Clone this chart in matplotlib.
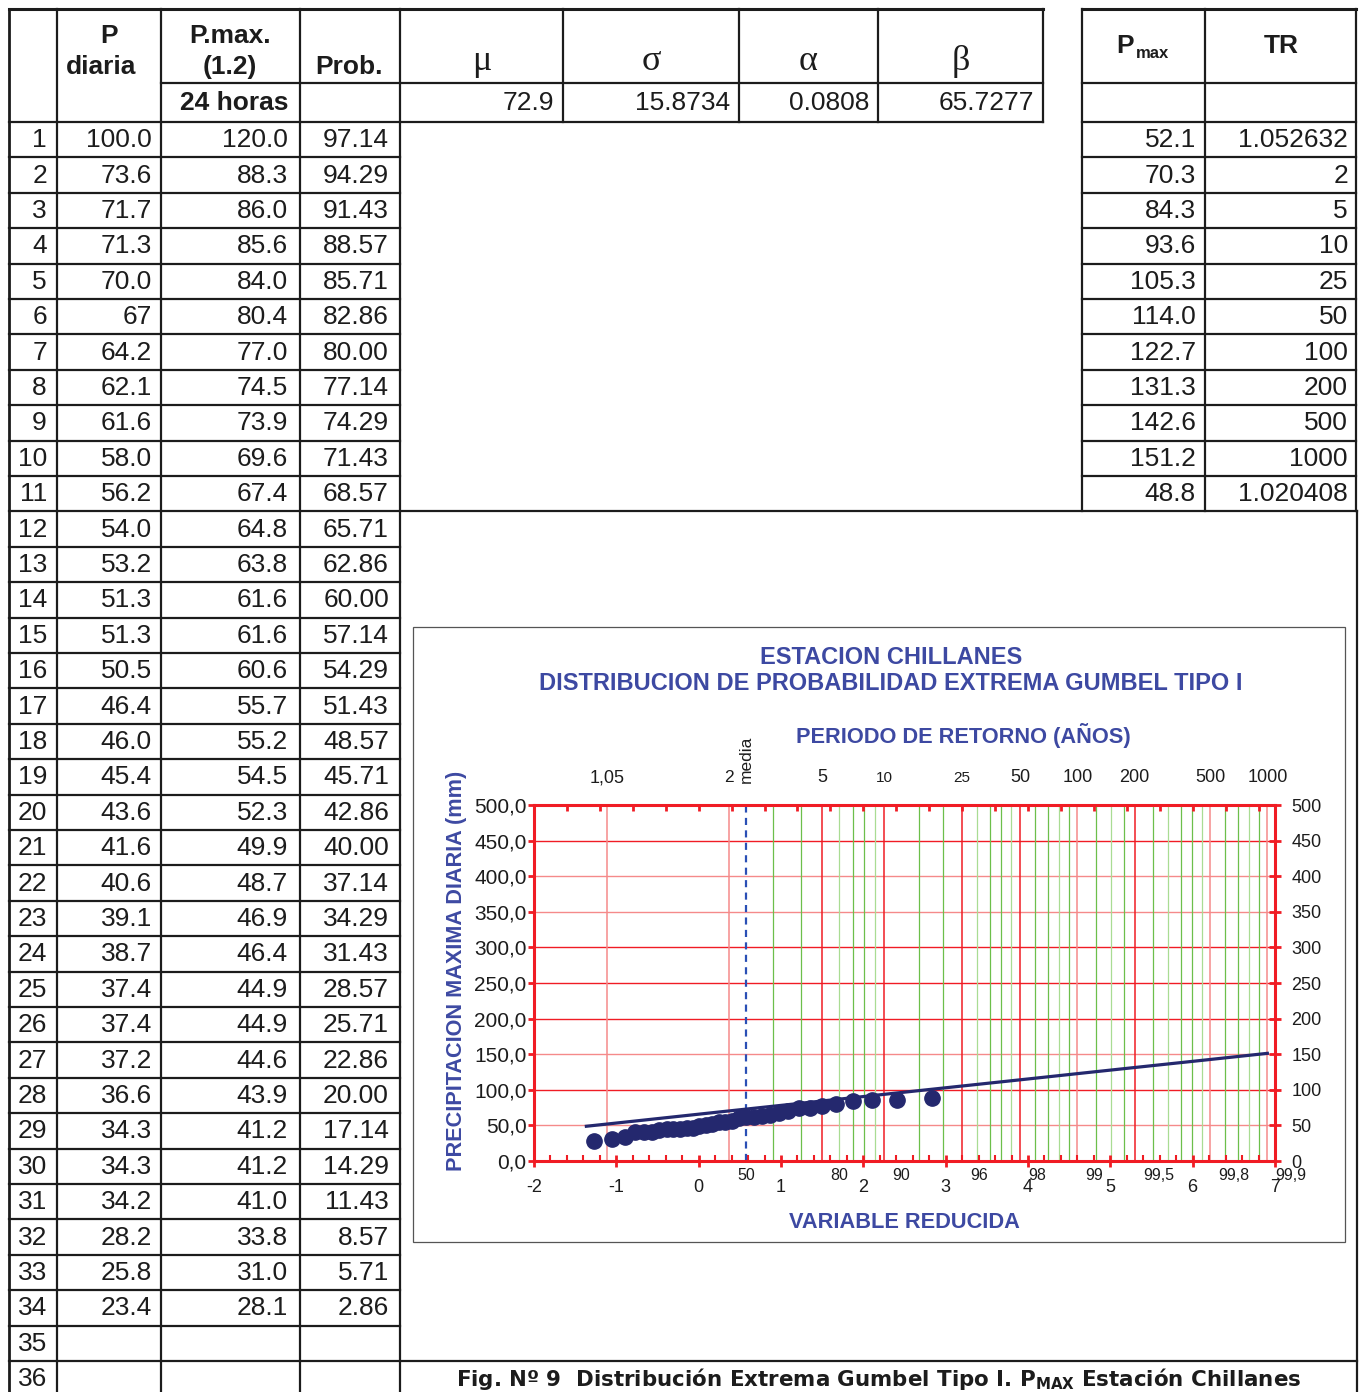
import numpy as np
import matplotlib
matplotlib.use("Agg")
import matplotlib.pyplot as plt
import matplotlib.transforms as mtransforms
from matplotlib.patches import Rectangle
from matplotlib.ticker import MultipleLocator, FuncFormatter

W, H = 1361, 1392

# --- sheet data -------------------------------------------------------------
p_diaria = [100.0, 73.6, 71.7, 71.3, 70.0, 67, 64.2, 62.1, 61.6, 58.0, 56.2, 54.0,
            53.2, 51.3, 51.3, 50.5, 46.4, 46.0, 45.4, 43.6, 41.6, 40.6, 39.1, 38.7,
            37.4, 37.4, 37.2, 36.6, 34.3, 34.3, 34.2, 28.2, 25.8, 23.4]
p_max24 = [120.0, 88.3, 86.0, 85.6, 84.0, 80.4, 77.0, 74.5, 73.9, 69.6, 67.4, 64.8,
           63.8, 61.6, 61.6, 60.6, 55.7, 55.2, 54.5, 52.3, 49.9, 48.7, 46.9, 46.4,
           44.9, 44.9, 44.6, 43.9, 41.2, 41.2, 41.0, 33.8, 31.0, 28.1]
prob = [97.14, 94.29, 91.43, 88.57, 85.71, 82.86, 80.00, 77.14, 74.29, 71.43, 68.57,
        65.71, 62.86, 60.00, 57.14, 54.29, 51.43, 48.57, 45.71, 42.86, 40.00, 37.14,
        34.29, 31.43, 28.57, 25.71, 22.86, 20.00, 17.14, 14.29, 11.43, 8.57, 5.71, 2.86]

param_names = ["\u03bc", "\u03c3", "\u03b1", "\u03b2"]
param_vals = ["72.9", "15.8734", "0.0808", "65.7277"]

pmax_tr = [52.1, 70.3, 84.3, 93.6, 105.3, 114.0, 122.7, 131.3, 142.6, 151.2, 48.8]
tr = [1.052632, 2, 5, 10, 25, 50, 100, 200, 500, 1000, 1.020408]

# return periods on the top scale, and the minor ones in green
top_tr = [1.05, 2, 5, 10, 25, 50, 100, 200, 500, 1000]
top_labels = ["1,05", "2", "5", "10", "25", "50", "100", "200", "500", "1000"]
top_sizes = [13, 12.5, 13, 11, 11, 13, 13, 13, 13, 13]
top_light = [True, True, False, False, False, False, True, False, True, True]
minor_tr = [3, 4, 6, 7, 8, 9, 15, 20, 30, 35, 40, 45, 60, 70, 80, 90, 125, 150, 175,
            250, 300, 350, 400, 450, 600, 700, 800, 900]
prob_pct = [50, 80, 90, 96, 98, 99, 99.5, 99.8, 99.9]
prob_labels = ["50", "80", "90", "96", "98", "99", "99,5", "99,8", "99,9"]

INK = "#1c1c1c"
RED = "#f01c24"
PINK = "#f58a8a"
GREEN = "#6cbf4a"
LGREEN = "#a9dc93"
NAVY = "#24286e"
BLUE = "#3d49a2"

plt.rcParams["font.family"] = ["Liberation Sans", "DejaVu Sans"]
plt.rcParams["axes.unicode_minus"] = False


def reduced(T):
    return -np.log(-np.log(1.0 - 1.0 / np.asarray(T, dtype=float)))


def reduced_p(p):
    return -np.log(-np.log(np.asarray(p, dtype=float) / 100.0))


def fmt_num(v):
    return f"{v:.1f}" if isinstance(v, float) else str(v)


def fmt_tr(v):
    return str(int(v)) if float(v).is_integer() else f"{v:.6f}"


fig = plt.figure(figsize=(W / 100, H / 100), dpi=100)
sheet = fig.add_axes([0, 0, 1, 1])
sheet.set_xlim(0, W)
sheet.set_ylim(H, 0)
sheet.axis("off")


def hline(y, x0, x1, lw=1.6):
    sheet.plot([x0, x1], [y, y], color=INK, lw=lw, solid_capstyle="projecting")


def vline(x, y0, y1, lw=1.6):
    sheet.plot([x, x], [y0, y1], color=INK, lw=lw, solid_capstyle="projecting")


def cell(x, y, s, ha="right", size=19, **kw):
    sheet.text(x, y, s, ha=ha, va="center", fontsize=size, color=INK, **kw)


# --- grid of the spreadsheet ------------------------------------------------
top, mid, head = 9, 83, 122
row_h = 35.4
n_rows = 36
bottom = H + 5
left_cols = [9, 57, 161, 300, 400]
par_cols = [400, 563, 739, 878, 1043]
tr_cols = [1082, 1205, 1356]
tr_bottom = head + 11 * row_h

hline(top, 9, 1043, lw=2.2)
hline(mid, 161, 1043)
hline(head, 9, 1043)
hline(top, 1082, 1356, lw=2.2)
hline(mid, 1082, 1356)
hline(head, 1082, 1356)
for k in range(1, n_rows + 1):
    y = head + k * row_h
    if k in (11, 35):
        hline(y, 9, 1357)
    else:
        hline(y, 9, 400)
    if k < 11:
        hline(y, 1082, 1356)
for x in left_cols:
    vline(x, top, bottom, lw=2.0 if x == 9 else 1.6)
for x in par_cols[1:]:
    vline(x, top, head)
for x in tr_cols:
    vline(x, top, tr_bottom)
vline(1357, tr_bottom, bottom)

# headers
cell(109, 36, "P", ha="center", weight="bold")
cell(101, 67, "diaria", ha="center", weight="bold")
cell(230, 36, "P.max.", ha="center", weight="bold")
cell(230, 67, "(1.2)", ha="center", weight="bold")
cell(349, 67, "Prob.", ha="center", weight="bold")
cell(234, 103, "24 horas", ha="center", weight="bold")
for i, (nm, val) in enumerate(zip(param_names, param_vals)):
    xc = (par_cols[i] + par_cols[i + 1]) / 2
    sheet.text(xc, 62, nm, ha="center", va="center", fontsize=26, color=INK,
               family=["Liberation Serif", "DejaVu Serif"])
    cell(par_cols[i + 1] - 9, 103, val)
cell(1125, 46, "P", ha="center", weight="bold")
cell(1153, 53, "max", ha="center", size=12, weight="bold")
cell(1281, 46, "TR", ha="center", weight="bold")

# rows
for k in range(n_rows):
    yc = head + (k + 0.5) * row_h + 0.5
    cell(47, yc, str(k + 1))
    if k < len(p_diaria):
        cell(152, yc, fmt_num(p_diaria[k]))
        cell(288, yc, f"{p_max24[k]:.1f}")
        cell(389, yc, f"{prob[k]:.2f}")
    if k < len(pmax_tr):
        cell(1196, yc, f"{pmax_tr[k]:.1f}")
        cell(1348, yc, fmt_tr(tr[k]))

sheet.text(879, 1379, "Fig. N\u00ba 9  Distribuci\u00f3n Extrema Gumbel Tipo I. P"
           r"$_{\mathbf{MAX}}$" " Estaci\u00f3n Chillanes",
           ha="center", va="center", fontsize=15.4, weight="bold", color=INK,
           family="DejaVu Sans")

# --- chart frame and titles -------------------------------------------------
sheet.add_patch(Rectangle((413, 627), 932, 615, facecolor="white",
                          edgecolor="#555555", lw=0.9))
sheet.text(891, 657, "ESTACION CHILLANES", ha="center", va="center",
           fontsize=17, weight="bold", color=BLUE)
sheet.text(891, 684, "DISTRIBUCION DE PROBABILIDAD EXTREMA GUMBEL TIPO I",
           ha="center", va="center", fontsize=17, weight="bold", color=BLUE)
sheet.text(963, 736, "PERIODO DE RETORNO (A\u00d1OS)", ha="center", va="center",
           fontsize=15.7, weight="bold", color=BLUE)
sheet.text(904, 1223, "VARIABLE REDUCIDA", ha="center", va="center",
           fontsize=15.7, weight="bold", color=BLUE)
sheet.text(457, 971, "PRECIPITACION MAXIMA DIARIA (mm)", ha="center", va="center",
           rotation=90, fontsize=15.6, weight="bold", color=BLUE)

# --- Gumbel paper -----------------------------------------------------------
ax = fig.add_axes([534 / W, 1 - 1161 / H, (1275 - 534) / W, (1161 - 805) / H])
ax.set_xlim(-2, 7)
ax.set_ylim(0, 500)
ax.patch.set_visible(False)

for y in range(50, 500, 50):
    ax.axhline(y, color=PINK if y in (50, 150, 350, 400) else RED, lw=1.0, zorder=1)
for i, T in enumerate(minor_tr):
    ax.axvline(reduced(T), color=LGREEN if i % 3 == 2 else GREEN, lw=0.9, zorder=1)
for T, light in zip(top_tr, top_light):
    ax.axvline(reduced(T), color=PINK if light else RED, lw=1.1, zorder=1.2)
ax.axvline(np.euler_gamma, color="#2a4fb5", lw=1.6, dashes=(3.2, 2.4), zorder=2)

order = np.argsort(tr)
ax.plot(reduced(tr)[order], np.array(pmax_tr)[order], color=NAVY, lw=2.3, zorder=3)
ax.plot(reduced_p(prob[1:]), p_max24[1:], "o", ms=11, color=NAVY, mec=NAVY, zorder=4)

for s in ax.spines.values():
    s.set_color(RED)
    s.set_linewidth(2.2)
    s.set_zorder(5)

ax.xaxis.set_major_locator(MultipleLocator(1))
ax.xaxis.set_minor_locator(MultipleLocator(0.2))
ax.tick_params(axis="x", which="major", direction="inout", length=8.5, width=2,
               color=RED, labelsize=13, labelcolor=INK, pad=8.5)
ax.tick_params(axis="x", which="minor", direction="in", length=4, width=1.5, color=RED)
ax.yaxis.set_major_locator(MultipleLocator(50))
ax.yaxis.set_major_formatter(FuncFormatter(lambda v, p: f"{v:.1f}".replace(".", ",")))
ax.tick_params(axis="y", direction="out", length=4.5, width=2, color=RED,
               labelsize=15, labelcolor=INK, pad=0.8)

axr = ax.twinx()
axr.set_ylim(0, 500)
axr.yaxis.set_major_locator(MultipleLocator(50))
axr.yaxis.set_major_formatter(FuncFormatter(lambda v, p: f"{v:.0f}"))
axr.tick_params(axis="y", direction="inout", length=8.5, width=2, color=RED,
                labelsize=13, labelcolor=INK, pad=7.5)
for s in axr.spines.values():
    s.set_visible(False)

axt = ax.twiny()
axt.set_xlim(-2, 7)
axt.xaxis.set_major_locator(MultipleLocator(0.4))
axt.tick_params(axis="x", direction="in", length=4.5, width=2, color=RED,
                labeltop=False)
for s in axt.spines.values():
    s.set_visible(False)

trans = mtransforms.blended_transform_factory(ax.transData, ax.transAxes)
for T, lbl, fs in zip(top_tr, top_labels, top_sizes):
    ax.text(reduced(T), 1.076, lbl, transform=trans, ha="center", va="center",
            fontsize=fs, color=INK)
ax.text(np.euler_gamma, 1.062, "media", transform=trans, rotation=90,
        ha="center", va="bottom", fontsize=12.5, color=INK)
for p, lbl in zip(prob_pct, prob_labels):
    ax.text(reduced_p(p) + 0.1, -0.04, lbl, transform=trans, ha="left",
            va="center", fontsize=11.5, color=INK)

fig.savefig("out.png", dpi=100)
